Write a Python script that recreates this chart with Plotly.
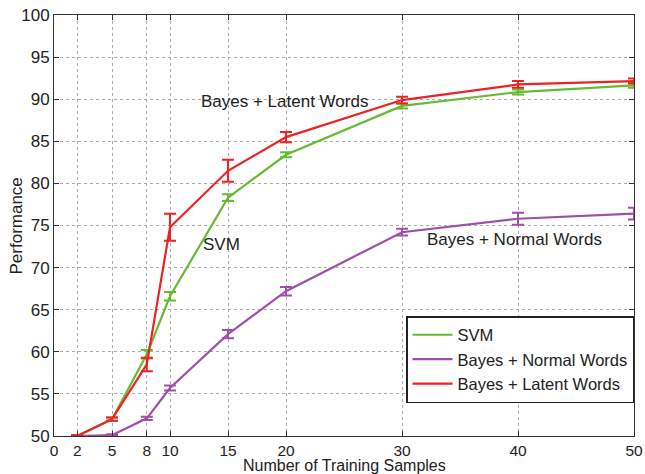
import plotly.graph_objects as go

x_vals = [2, 5, 8, 10, 15, 20, 30, 40, 50]
svm = [50.0, 52.0, 59.7, 66.6, 78.3, 83.4, 89.2, 90.85, 91.65]
svm_err = [0.1, 0.2, 0.5, 0.5, 0.4, 0.3, 0.3, 0.3, 0.3]
normal = [50.0, 50.1, 52.1, 55.7, 62.1, 67.2, 74.2, 75.8, 76.4]
normal_err = [0.1, 0.1, 0.2, 0.3, 0.5, 0.5, 0.4, 0.7, 0.7]
latent = [50.0, 52.0, 58.5, 74.8, 81.5, 85.5, 89.9, 91.75, 92.15]
latent_err = [0.1, 0.2, 0.8, 1.6, 1.3, 0.6, 0.4, 0.4, 0.3]
x_ticks = [0, 2, 5, 8, 10, 15, 20, 30, 40, 50]
y_ticks = [50, 55, 60, 65, 70, 75, 80, 85, 90, 95, 100]

GREEN = "#66bb33"
PURPLE = "#9e4fa8"
RED = "#ee2222"

fig = go.Figure()
for name, ys, errs, color in [
    ("SVM", svm, svm_err, GREEN),
    ("Bayes + Normal Words", normal, normal_err, PURPLE),
    ("Bayes + Latent Words", latent, latent_err, RED),
]:
    fig.add_trace(go.Scatter(
        x=x_vals, y=ys, name=name, mode="lines",
        line=dict(color=color, width=2.2),
        error_y=dict(type="data", array=errs, visible=True, color=color,
                     thickness=2, width=6),
    ))

font_family = "Liberation Sans, Arial, sans-serif"
TXT = "#222222"
FS = 17
axis_common = dict(
    showgrid=True, gridcolor="#aaaaaa", griddash="dot", gridwidth=1,
    showline=True, linecolor="#333333", linewidth=1, mirror="ticks",
    ticks="inside", ticklen=5, tickcolor="#333333",
    zeroline=False, automargin=False,
)
fig.update_xaxes(range=[0, 50], tickmode="array", tickvals=x_ticks,
                 ticktext=[str(v) for v in x_ticks],
                 tickfont=dict(size=15.5, color=TXT, family=font_family),
                 **axis_common)
fig.update_yaxes(range=[50, 100], tickmode="array", tickvals=y_ticks,
                 tickfont=dict(size=FS, color=TXT, family=font_family),
                 **axis_common)

ann_font = dict(size=FS, color=TXT, family=font_family)
fig.add_annotation(x=-0.0638, y=0.5, xref="paper", yref="paper", text="Performance",
                   textangle=-90, showarrow=False, font=ann_font,
                   xanchor="center", yanchor="middle")
fig.add_annotation(x=0.5, y=0, xref="paper", yref="paper", text="Number of Training Samples",
                   showarrow=False, font=dict(size=16, color=TXT, family=font_family),
                   xanchor="center", yanchor="top", yshift=-20, borderpad=0)
fig.add_annotation(x=19.9, y=89.7, text="Bayes + Latent Words", showarrow=False, font=ann_font)
fig.add_annotation(x=14.4, y=72.8, text="SVM", showarrow=False, font=ann_font)
fig.add_annotation(x=39.7, y=73.3, text="Bayes + Normal Words", showarrow=False, font=ann_font)

fig.update_layout(
    width=645, height=474,
    margin=dict(l=54, r=11, t=15, b=38),
    paper_bgcolor="white", plot_bgcolor="white",
    font=dict(family=font_family),
    showlegend=True,
    legend=dict(x=1.0, y=0.285, xanchor="right", yanchor="top",
                bgcolor="white", bordercolor="#222222", borderwidth=1.5,
                font=dict(size=16.5, color=TXT, family=font_family),
                itemwidth=40, tracegroupgap=0),
)
fig.write_html("out.html", config={"displayModeBar": False},
               post_script="document.body.style.margin='0';document.body.style.overflow='hidden';")
